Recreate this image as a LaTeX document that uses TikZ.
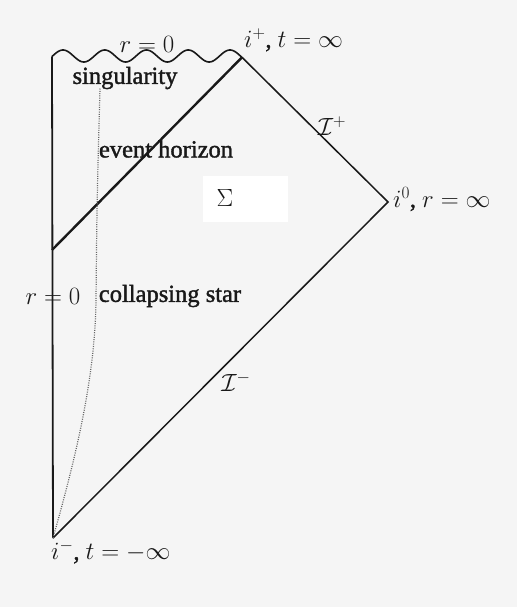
\documentclass[tikz,border=0pt]{standalone}
\usepackage{fontspec}
\setmainfont{Liberation Serif}[FakeBold=1.5]
\definecolor{bgc}{RGB}{245,245,245}
\definecolor{ink}{RGB}{25,25,25}
\begin{document}
\begin{tikzpicture}[x=1pt,y=-1pt,
  lbl/.style={font=\fontsize{24.5}{28}\selectfont, inner sep=0pt, text=ink},
  edge/.style={line width=1.5pt, draw=ink},
  horizon/.style={line width=2.4pt, draw=ink},
  worldline/.style={line width=1.2pt, draw=gray!80!black, dash pattern=on 1pt off 1.3pt}]
\fill[bgc] (0,0) rectangle (517,607);
\useasboundingbox (0,0) rectangle (517,607);
\fill[white] (203,176) rectangle (288,222);
\coordinate (ip) at (242,57.3);
\coordinate (i0) at (388,202);
\coordinate (im) at (53,538);
\coordinate (tl) at (52,56.5);
\coordinate (eh) at (52,250);
\coordinate (dtop) at (100,88);
% boundaries
\draw[edge, line width=1.8pt] (tl) -- (im);
\draw[edge, line join=miter] (im) -- (i0) -- (ip);
\draw[horizon] (ip) -- (eh);
% singularity (wavy)
\draw[edge, line width=1.6pt] plot[domain=52:242, samples=240, smooth] (\x, {56 - 6*cos((\x-63)/41.75*360)});
% collapsing star surface (dotted)
\draw[worldline] (im) .. controls (75,460) and (95,380) .. (96,300) .. controls (97,200) .. (dtop);
% labels
\node[lbl] (r0top) at (147,44) {$r=0$};
\node[lbl, anchor=west] (iplus) at (244,40) {$i^{+}$, $t=\infty$};
\node[lbl] (sing) at (125,78) {singularity};
\node[lbl] (evh) at (166,149) {event horizon};
\node[lbl] (scriplus) at (332,126) {$\mathcal{I}^{+}$};
\node[lbl] (sigma) at (225,198) {$\Sigma$};
\node[lbl, anchor=west] (izero) at (393,199) {$i^{0}$, $r=\infty$};
\node[lbl] (r0left) at (53,296) {$r=0$};
\node[lbl] (star) at (170,296) {collapsing star};
\node[lbl] (scriminus) at (236,382) {$\mathcal{I}^{-}$};
\node[lbl, anchor=west] (iminus) at (51,552) {$i^{-}$, $t=-\infty$};
\end{tikzpicture}
\end{document}
